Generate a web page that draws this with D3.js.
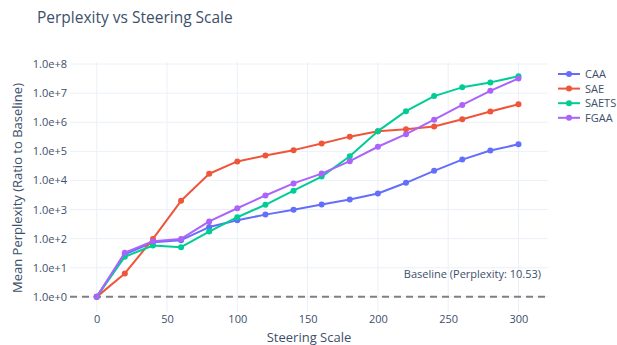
<!DOCTYPE html>
<html>
<head>
<meta charset="utf-8">
<script src="https://cdn.jsdelivr.net/npm/d3@7"></script>
<style>
  html, body { margin: 0; padding: 0; background: #fff; }
  svg { display: block; font-family: "Open Sans", "DejaVu Sans", sans-serif; }
</style>
</head>
<body>
<svg id="chart" width="617" height="345"></svg>
<script>
// Steering scales evaluated
const steeringScales = [0, 20, 40, 60, 80, 100, 120, 140, 160, 180, 200, 220, 240, 260, 280, 300];

// Mean perplexity ratio to baseline for each method
const caaValues   = [1, 29, 75, 89, 250, 430, 670, 990, 1500, 2230, 3550, 8300, 21400, 52000, 107000, 174000];
const saeValues   = [1, 6.4, 98, 2000, 17000, 45000, 72000, 110000, 186000, 320000, 490000, 570000, 710000, 1260000, 2340000, 4170000];
const saetsValues = [1, 24, 58, 51, 175, 545, 1460, 4460, 13600, 68000, 495000, 2400000, 7900000, 15800000, 23400000, 38000000];
const fgaaValues  = [1, 33, 82, 98, 390, 1110, 3050, 7900, 17200, 46000, 144000, 390000, 1230000, 3950000, 12000000, 32000000];

const seriesNames = ["CAA", "SAE", "SAETS", "FGAA"];
const seriesColors = ["#636efa", "#EF553B", "#00cc96", "#ab63fa"];
const seriesValues = [caaValues, saeValues, saetsValues, fgaaValues];

const xTicks = [0, 50, 100, 150, 200, 250, 300];
const yTicks = [1e0, 1e1, 1e2, 1e3, 1e4, 1e5, 1e6, 1e7, 1e8];
const baselineRatio = 1;
const baselineLabel = "Baseline (Perplexity: 10.53)";

const textColor = "#3d4f6b";
const gridColor = "#ebf0f8";

const svg = d3.select("#chart");
const plot = { left: 70, right: 548, top: 62, bottom: 312 };

const x = d3.scaleLinear().domain([-19, 321]).range([plot.left, plot.right]);
const y = d3.scaleLog().domain([Math.pow(10, -0.52), Math.pow(10, 8.07)]).range([plot.bottom, plot.top]);

// Title
svg.append("text")
  .attr("x", 37).attr("y", 23)
  .attr("font-size", 15.5)
  .attr("fill", textColor)
  .text("Perplexity vs Steering Scale");

// Gridlines
const grid = svg.append("g");
grid.selectAll(".gx").data(xTicks).join("line")
  .attr("x1", d => x(d)).attr("x2", d => x(d))
  .attr("y1", plot.top).attr("y2", plot.bottom)
  .attr("stroke", gridColor).attr("stroke-width", 1);
grid.selectAll(".gy").data(yTicks).join("line")
  .attr("x1", plot.left).attr("x2", plot.right)
  .attr("y1", d => y(d)).attr("y2", d => y(d))
  .attr("stroke", gridColor).attr("stroke-width", 1);

// Axes (labels only, no domain lines)
const xAxis = svg.append("g")
  .attr("transform", `translate(0,${plot.bottom})`)
  .call(d3.axisBottom(x).tickValues(xTicks).tickSize(0).tickPadding(3));
const yAxis = svg.append("g")
  .attr("transform", `translate(${plot.left},0)`)
  .call(d3.axisLeft(y).tickValues(yTicks).tickSize(0).tickPadding(3)
    .tickFormat(d => d.toExponential(1)));
[xAxis, yAxis].forEach(a => {
  a.select(".domain").remove();
  a.selectAll("text").attr("fill", textColor).attr("font-size", 11)
    .attr("font-family", "\"Open Sans\", sans-serif");
});

// Axis titles
svg.append("text")
  .attr("x", (plot.left + plot.right) / 2).attr("y", 342)
  .attr("text-anchor", "middle").attr("font-size", 13).attr("fill", textColor)
  .text("Steering Scale");
svg.append("text")
  .attr("transform", `translate(22,${(plot.top + plot.bottom) / 2 + 1}) rotate(-90)`)
  .attr("text-anchor", "middle").attr("font-size", 13).attr("fill", textColor)
  .text("Mean Perplexity (Ratio to Baseline)");

// Baseline reference line
svg.append("line")
  .attr("x1", plot.left).attr("x2", plot.right)
  .attr("y1", y(baselineRatio)).attr("y2", y(baselineRatio))
  .attr("stroke", "#808080").attr("stroke-width", 2)
  .attr("stroke-dasharray", "7,5");
svg.append("text")
  .attr("x", 541).attr("y", y(baselineRatio) - 19)
  .attr("text-anchor", "end").attr("font-size", 11).attr("fill", textColor)
  .text(baselineLabel);

// Series lines and markers
const line = d3.line().x((d, i) => x(steeringScales[i])).y(d => y(d));
seriesValues.forEach((vals, k) => {
  const g = svg.append("g");
  g.append("path").datum(vals)
    .attr("d", line).attr("fill", "none")
    .attr("stroke", seriesColors[k]).attr("stroke-width", 2)
    .attr("stroke-linejoin", "round");
  g.selectAll("circle").data(vals).join("circle")
    .attr("cx", (d, i) => x(steeringScales[i]))
    .attr("cy", d => y(d))
    .attr("r", 3).attr("fill", seriesColors[k]);
});

// Legend
const legend = svg.append("g");
seriesNames.forEach((name, k) => {
  const ly = 74 + k * 14.6;
  legend.append("line")
    .attr("x1", 558).attr("x2", 580).attr("y1", ly).attr("y2", ly)
    .attr("stroke", seriesColors[k]).attr("stroke-width", 2);
  legend.append("circle").attr("cx", 569).attr("cy", ly).attr("r", 3)
    .attr("fill", seriesColors[k]);
  legend.append("text")
    .attr("x", 585).attr("y", ly + 4)
    .attr("font-size", 11).attr("fill", textColor)
    .text(name);
});
</script>
</body>
</html>
